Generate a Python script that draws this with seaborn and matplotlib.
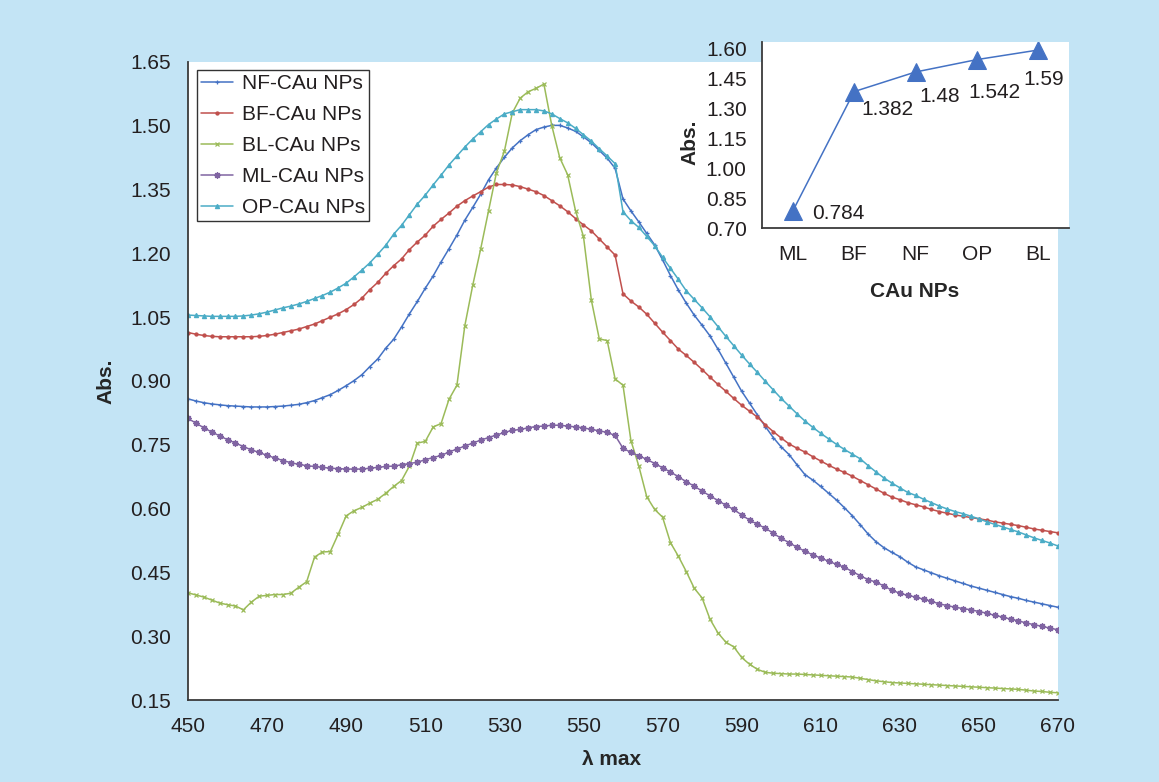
import numpy as np
import pandas as pd
import matplotlib
matplotlib.use("Agg")
import matplotlib.pyplot as plt
import matplotlib.ticker as ticker
import seaborn as sns

# wavelength grid (nm), one reading every 2 nm
wavelength = list(range(450, 671, 2))

nf = [0.858, 0.853, 0.849, 0.846, 0.844, 0.842, 0.841, 0.840, 0.839, 0.839,
      0.839, 0.840, 0.841, 0.843, 0.845, 0.849, 0.854, 0.861, 0.868, 0.878,
      0.889, 0.901, 0.915, 0.934, 0.952, 0.977, 0.998, 1.027, 1.058, 1.087,
      1.118, 1.147, 1.180, 1.211, 1.243, 1.278, 1.308, 1.339, 1.373, 1.401,
      1.426, 1.448, 1.465, 1.479, 1.491, 1.497, 1.501, 1.501, 1.495, 1.487,
      1.474, 1.460, 1.442, 1.424, 1.400, 1.328, 1.300, 1.274, 1.247, 1.220,
      1.185, 1.148, 1.114, 1.083, 1.055, 1.031, 1.006, 0.975, 0.942, 0.909,
      0.876, 0.848, 0.820, 0.793, 0.767, 0.745, 0.727, 0.703, 0.680, 0.667,
      0.652, 0.636, 0.620, 0.602, 0.583, 0.562, 0.540, 0.522, 0.508, 0.497,
      0.487, 0.474, 0.463, 0.456, 0.449, 0.442, 0.436, 0.430, 0.424, 0.418,
      0.413, 0.408, 0.403, 0.398, 0.393, 0.389, 0.384, 0.380, 0.376, 0.372,
      0.368]

bf = [1.014, 1.010, 1.007, 1.005, 1.004, 1.004, 1.004, 1.004, 1.004, 1.005,
      1.007, 1.010, 1.014, 1.018, 1.022, 1.028, 1.034, 1.042, 1.050, 1.058,
      1.068, 1.080, 1.095, 1.115, 1.132, 1.153, 1.171, 1.187, 1.209, 1.227,
      1.243, 1.264, 1.280, 1.295, 1.311, 1.324, 1.335, 1.345, 1.356, 1.362,
      1.362, 1.361, 1.357, 1.351, 1.345, 1.336, 1.324, 1.312, 1.298, 1.282,
      1.267, 1.253, 1.234, 1.215, 1.196, 1.105, 1.088, 1.074, 1.057, 1.036,
      1.015, 0.995, 0.975, 0.960, 0.944, 0.927, 0.909, 0.892, 0.876, 0.859,
      0.843, 0.829, 0.815, 0.797, 0.781, 0.766, 0.752, 0.742, 0.733, 0.722,
      0.712, 0.702, 0.693, 0.685, 0.676, 0.666, 0.656, 0.646, 0.636, 0.627,
      0.621, 0.614, 0.609, 0.604, 0.598, 0.593, 0.589, 0.585, 0.582, 0.579,
      0.576, 0.573, 0.569, 0.566, 0.563, 0.560, 0.556, 0.552, 0.549, 0.546,
      0.543]

bl = [0.402, 0.397, 0.392, 0.385, 0.378, 0.374, 0.371, 0.362, 0.380, 0.394,
      0.396, 0.398, 0.398, 0.401, 0.415, 0.428, 0.486, 0.498, 0.499, 0.540,
      0.583, 0.595, 0.603, 0.613, 0.622, 0.636, 0.652, 0.666, 0.700, 0.754,
      0.758, 0.792, 0.800, 0.857, 0.890, 1.030, 1.125, 1.210, 1.300, 1.390,
      1.440, 1.530, 1.565, 1.580, 1.588, 1.598, 1.500, 1.425, 1.385, 1.300,
      1.240, 1.090, 0.999, 0.995, 0.905, 0.890, 0.760, 0.700, 0.628, 0.598,
      0.580, 0.520, 0.488, 0.452, 0.413, 0.390, 0.340, 0.308, 0.286, 0.275,
      0.250, 0.234, 0.222, 0.215, 0.213, 0.212, 0.211, 0.211, 0.210, 0.209,
      0.208, 0.207, 0.206, 0.205, 0.204, 0.201, 0.198, 0.195, 0.193, 0.191,
      0.190, 0.189, 0.188, 0.187, 0.186, 0.185, 0.184, 0.183, 0.182, 0.181,
      0.180, 0.179, 0.178, 0.177, 0.176, 0.175, 0.173, 0.171, 0.170, 0.168,
      0.167]

ml = [0.812, 0.801, 0.790, 0.780, 0.771, 0.762, 0.754, 0.746, 0.738, 0.732,
      0.725, 0.719, 0.713, 0.708, 0.704, 0.701, 0.699, 0.697, 0.695, 0.694,
      0.693, 0.693, 0.693, 0.695, 0.697, 0.699, 0.700, 0.703, 0.706, 0.709,
      0.715, 0.720, 0.725, 0.733, 0.740, 0.747, 0.754, 0.761, 0.767, 0.773,
      0.779, 0.784, 0.786, 0.790, 0.793, 0.794, 0.796, 0.796, 0.794, 0.792,
      0.790, 0.786, 0.783, 0.779, 0.772, 0.742, 0.732, 0.724, 0.716, 0.706,
      0.696, 0.686, 0.675, 0.663, 0.653, 0.641, 0.630, 0.619, 0.608, 0.598,
      0.585, 0.573, 0.563, 0.554, 0.542, 0.530, 0.520, 0.509, 0.500, 0.491,
      0.484, 0.476, 0.469, 0.462, 0.452, 0.442, 0.433, 0.427, 0.418, 0.408,
      0.401, 0.396, 0.392, 0.387, 0.382, 0.376, 0.372, 0.368, 0.365, 0.362,
      0.358, 0.354, 0.349, 0.345, 0.340, 0.336, 0.331, 0.327, 0.323, 0.319,
      0.315]

op = [1.055, 1.054, 1.053, 1.052, 1.052, 1.052, 1.052, 1.053, 1.055, 1.058,
      1.062, 1.067, 1.072, 1.076, 1.081, 1.087, 1.094, 1.101, 1.109, 1.119,
      1.130, 1.145, 1.161, 1.178, 1.198, 1.219, 1.245, 1.266, 1.291, 1.316,
      1.337, 1.361, 1.384, 1.408, 1.429, 1.450, 1.469, 1.486, 1.503, 1.516,
      1.528, 1.533, 1.538, 1.538, 1.538, 1.535, 1.528, 1.517, 1.507, 1.494,
      1.479, 1.464, 1.446, 1.429, 1.411, 1.298, 1.277, 1.261, 1.240, 1.218,
      1.191, 1.165, 1.139, 1.112, 1.092, 1.072, 1.051, 1.028, 1.005, 0.983,
      0.961, 0.940, 0.920, 0.899, 0.879, 0.859, 0.841, 0.823, 0.806, 0.791,
      0.777, 0.764, 0.751, 0.739, 0.728, 0.717, 0.701, 0.686, 0.672, 0.660,
      0.649, 0.638, 0.631, 0.622, 0.614, 0.606, 0.599, 0.593, 0.588, 0.582,
      0.576, 0.569, 0.563, 0.557, 0.551, 0.545, 0.538, 0.531, 0.525, 0.519,
      0.512]

series_names = ["NF-CAu NPs", "BF-CAu NPs", "BL-CAu NPs", "ML-CAu NPs", "OP-CAu NPs"]

# inset: peak absorbance per sample
inset_cats = ["ML", "BF", "NF", "OP", "BL"]
inset_vals = [0.784, 1.382, 1.48, 1.542, 1.59]

# ---- style ----
sns.set_style("white")
plt.rcParams["font.family"] = ["Liberation Sans", "DejaVu Sans"]
plt.rcParams["text.color"] = "#231f20"
plt.rcParams["xtick.color"] = "#231f20"
plt.rcParams["ytick.color"] = "#231f20"

bg = "#c3e4f5"
spine_col = "#3a3a3a"
colors = ["#4472c4", "#c0504d", "#9bbb59", "#8064a2", "#4bacc6"]
markers = ["+", "o", "x", (8, 1, 0), "^"]
msizes = [3.5, 2.2, 3.0, 4.5, 3.0]

fig = plt.figure(figsize=(11.59, 7.82), dpi=100, facecolor=bg)
ax = fig.add_axes([188 / 1159, 82 / 782, 870 / 1159, 638 / 782])
ax.set_facecolor("white")

all_vals = [nf, bf, bl, ml, op]
for name, vals, c, m, ms in zip(series_names, all_vals, colors, markers, msizes):
    sns.lineplot(x=wavelength, y=vals, color=c, marker=m, markersize=ms,
                 markeredgecolor=c, markerfacecolor=c, markeredgewidth=0.9,
                 linewidth=1.1, label=name, ax=ax)

ax.set_xlim(450, 670)
ax.set_ylim(0.15, 1.65)
ax.set_xticks(range(450, 671, 20))
ax.set_yticks(np.arange(0.15, 1.651, 0.15))
ax.yaxis.set_major_formatter(ticker.StrMethodFormatter("{x:.2f}"))
ax.tick_params(axis="both", direction="out", length=8, width=1.3,
               color=spine_col, labelsize=15, pad=4)
for s in ["top", "right"]:
    ax.spines[s].set_visible(False)
for s in ["left", "bottom"]:
    ax.spines[s].set_color(spine_col)
    ax.spines[s].set_linewidth(1.3)

ax.set_xlabel("λ max", fontsize=15, fontweight="bold")
ax.xaxis.set_label_coords(0.487, -0.078)
ax.set_ylabel("Abs.", fontsize=15, fontweight="bold")
ax.yaxis.set_label_coords(-0.083, 0.5)

leg = ax.legend(loc="upper left", bbox_to_anchor=(0.0103, 0.987), borderaxespad=0,
                fontsize=15, frameon=True, fancybox=False, handlelength=1.55,
                handletextpad=0.4, labelspacing=0.57, borderpad=0.2)
leg.get_frame().set_edgecolor("black")
leg.get_frame().set_linewidth(1.0)

# ---- inset ----
ins = fig.add_axes([762 / 1159, (782 - 228) / 782, 307 / 1159, 186 / 782])
ins.set_facecolor("white")
pos = list(range(len(inset_cats)))
sns.lineplot(x=pos, y=inset_vals, color="#4472c4", linewidth=1.1, marker="^",
             markersize=13, markeredgecolor="#4472c4", markerfacecolor="#4472c4",
             ax=ins)
ins.set_xlim(-0.5, 4.5)
ins.set_ylim(0.70, 1.63)
ins.set_yticks(np.arange(0.70, 1.601, 0.15))
ins.yaxis.set_major_formatter(ticker.StrMethodFormatter("{x:.2f}"))
ins.set_xticks(pos)
ins.set_xticklabels(inset_cats)
ins.set_xticks(np.arange(-0.5, 4.6, 1.0), minor=True)
ins.tick_params(axis="x", which="major", length=0, labelsize=15, pad=12)
ins.tick_params(axis="x", which="minor", direction="out", length=10, width=1.3,
                color=spine_col)
ins.tick_params(axis="y", direction="out", length=8, width=1.3, color=spine_col,
                labelsize=15, pad=3)
for s in ["top", "right"]:
    ins.spines[s].set_visible(False)
for s in ["left", "bottom"]:
    ins.spines[s].set_color(spine_col)
    ins.spines[s].set_linewidth(1.3)

ins.set_xlabel("CAu NPs", fontsize=15, fontweight="bold")
ins.xaxis.set_label_coords(0.498, -0.29)
ins.set_ylabel("Abs.", fontsize=15, fontweight="bold")
ins.yaxis.set_label_coords(-0.205, 0.46)

# data labels (offsets in points)
offsets = [(14, -2), (5, -13), (3, -18), (-6, -24), (-11, -21)]
for p, v, off in zip(pos, inset_vals, offsets):
    ins.annotate(f"{v:g}", (p, v), xytext=off, textcoords="offset points",
                 ha="left", va="center", fontsize=15)

fig.savefig("out.png", dpi=100, facecolor=bg)
